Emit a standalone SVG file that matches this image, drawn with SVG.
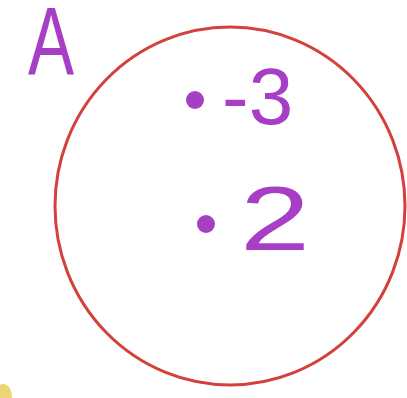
<svg xmlns="http://www.w3.org/2000/svg" width="407" height="398" viewBox="0 0 407 398">
<style>
.lbl{font-family:"Liberation Sans","DejaVu Sans",sans-serif;fill:#a63ec6}
.dot{fill:#a63ec6}
.set{fill:none;stroke:#d4403c;stroke-width:3}
</style>
<rect width="407" height="398" fill="#ffffff"/>
<g id="setA">
<ellipse class="set" cx="230" cy="206" rx="175" ry="179"/>
<text class="lbl" font-size="96" transform="translate(28,74) scale(0.72,1)">A</text>
</g>
<g id="elem-neg3">
<circle class="dot" cx="195" cy="100" r="9"/>
<text class="lbl" x="222" y="124" font-size="80">-3</text>
</g>
<g id="elem-2">
<circle class="dot" cx="206" cy="224" r="9"/>
<text class="lbl" font-size="90" transform="translate(240,250) scale(1.4,1)">2</text>
</g>
<ellipse cx="3" cy="396" rx="9" ry="12" fill="#e8c23a" opacity="0.7"/>
</svg>
